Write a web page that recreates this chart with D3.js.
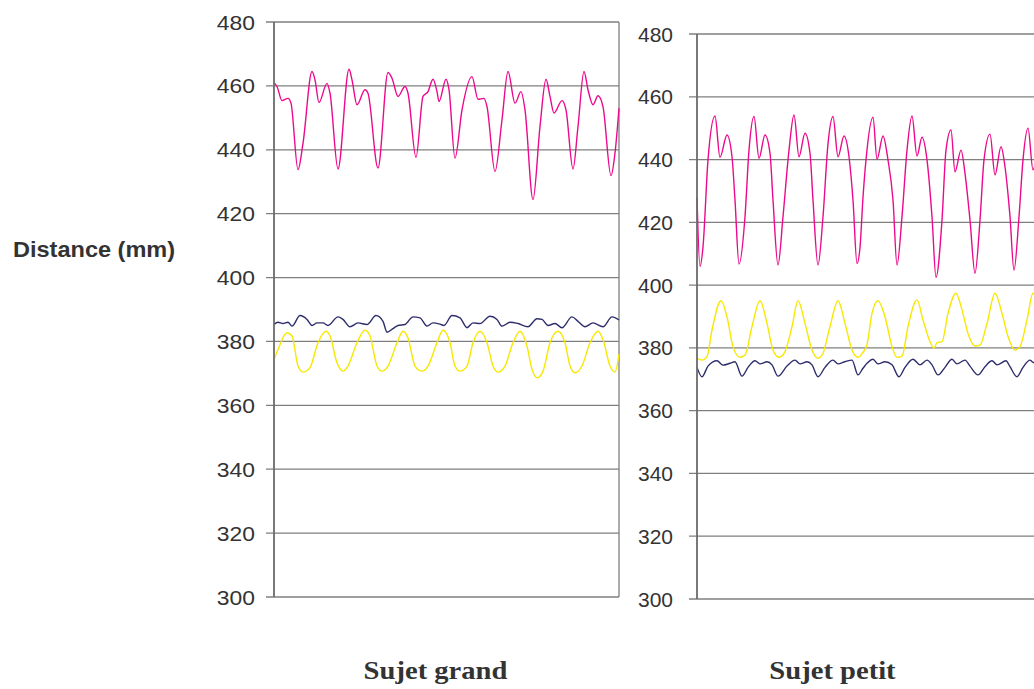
<!DOCTYPE html>
<html>
<head>
<meta charset="utf-8">
<script src="https://cdn.jsdelivr.net/npm/d3@7"></script>
<style>
  body { margin: 0; background: #fff; }
  svg { display: block; }
</style>
</head>
<body>
<svg id="chart" width="1034" height="689"></svg>
<script>
// Axis values (mm) and sample range shared by both panels
var yTicks = [300, 320, 340, 360, 380, 400, 420, 440, 460, 480]
var tDomain = [0, 345]

// Sujet grand: [sample, distance in mm]
var grandRose = [[0,461],[3,459.8],[8,455.4],[14,456.1],[17,454.6],[24,433.8],[29,442],[38,464.5],[41,461.9],[45,454.8],
  [53,460.8],[56,457.7],[64,434],[75,465.2],[78,461.9],[83,454.1],[91,458.8],[94,457.7],[104,434.3],[114,464.2],
  [118,462.4],[124,456.7],[131,459.8],[134,457.7],[142,437.6],[149,456.7],[154,458.2],[159,462.1],[163,458.2],[165,455.1],
  [172,462.1],[175,458.8],[181,437.4],[188,452.5],[198,462.9],[204,455.8],[210,456.1],[213,453.5],[221,433.2],[228,449.4],
  [234,464.5],[241,454.6],[247,458.2],[251,452.5],[259,424.4],[266,447.3],[272,462.1],[276,456.7],[280,451.5],[288,455.4],
  [292,452.5],[299,434],[304,447.3],[310,464.5],[314,458.8],[319,454.1],[324,456.9],[329,453.5],[337,431.9],[341,439],[345,453]]

var grandBleu = [[0,385.3],[4,386],[9,385.6],[14,386],[18,384.8],[26,388.1],[33,386.9],[38,385],[43,385.8],[49,385.8],
  [54,385],[64,387.7],[69,386.9],[76,384.6],[84,385.8],[93,385.3],[102,388.1],[109,386.3],[113,382.9],[119,384],
  [124,385],[131,385.3],[139,387.7],[146,387.4],[153,384.8],[159,385.8],[166,385.4],[170,385],[178,388.1],[186,387.4],
  [193,384.3],[199,385.8],[206,385.6],[216,387.9],[223,386.9],[228,384.8],[236,386],[244,385.6],[254,384.6],[263,387.1],
  [268,386.9],[274,385],[281,385.6],[288,384.3],[298,387.7],[304,386.3],[311,384.6],[319,385.8],[329,384.6],[338,387.7],[345,386.7]]

var grandJaune = [[0,374.4],[4,377.5],[13,382.7],[18,381.7],[24,372.3],[29,370.4],[36,371.8],[44,379.6],[52,383.2],[56,381.7],
  [63,373.3],[69,370.7],[74,372.3],[83,379.6],[91,383.5],[96,381.7],[103,372.3],[108,370.7],[114,372.3],[123,379.6],
  [129,383.2],[134,381.1],[141,372.3],[148,370.7],[154,372.3],[163,379.6],[169,383.5],[176,379.6],[181,372.3],[186,370.7],
  [193,372.3],[199,379.6],[206,383.2],[213,379.6],[219,372.3],[224,370.4],[231,372.3],[239,379.6],[246,383.2],[253,378.5],
  [258,371.3],[263,368.6],[269,370.7],[276,379.6],[284,383.2],[291,379.6],[296,372.3],[301,370.2],[308,372.3],[316,379.6],
  [324,383.2],[329,380.6],[336,372.3],[341,370.4],[345,376]]

// Sujet petit
var petitRose = [[0,428],[3,405.9],[6,412.2],[11,439.9],[18,453.9],[23,440.7],[30,447.8],[35,440.9],[38,427.1],[42,406.7],
  [48,421.8],[52,443],[57,453.7],[62,440.4],[68,447.8],[73,442],[76,427.1],[81,406.4],[86,421.8],[92,443],
  [97,454.2],[102,440.9],[108,448.4],[113,442],[116,427.1],[121,406.4],[126,421.8],[131,445],[136,453.7],[141,440.9],
  [147,447.5],[152,440.9],[156,427.1],[160,406.9],[163,412],[166,428],[169,439.9],[176,453.5],[180,440.1],[186,447.5],
  [191,439.9],[196,427.1],[200,406.4],[205,421.8],[210,443],[215,453.9],[220,441.1],[225,447.1],[230,439.9],[235,421.8],
  [239,402.5],[245,420.7],[249,443],[254,449.4],[258,436.1],[264,443],[268,435.6],[273,420.7],[278,403.8],[283,420.7],
  [287,439.9],[293,448.1],[298,435.1],[304,444.1],[308,437.7],[313,421.8],[317,404.8],[322,421.8],[326,439.9],[331,450],
  [336,436.7],[340,440],[345,442]]

var petitBleu = [[0,373.8],[5,370.8],[11,374.2],[20,375.9],[26,374.5],[33,375.1],[38,375.6],[45,371],[51,373.8],[58,375.9],
  [63,374.9],[70,375.6],[75,374.6],[81,371],[90,374.2],[98,376.1],[103,374.9],[110,375.6],[115,374.6],[121,370.8],
  [128,373.8],[136,376.1],[141,374.9],[148,375.6],[155,376.1],[161,371.4],[166,373.5],[170,375.1],[176,376.4],[181,374.9],
  [188,375.6],[195,374.6],[202,370.8],[208,373.8],[216,376.4],[223,374.6],[230,376.1],[235,374.6],[241,371.4],[248,373.8],
  [255,376.4],[260,374.9],[268,376.1],[273,374.2],[281,371.4],[288,374],[295,375.9],[300,374.6],[309,375.9],[313,374],
  [320,370.8],[326,373.8],[333,376.1],[336,375.4],[345,375]]

var petitJaune = [[0,376.7],[5,376.1],[10,377.2],[15,385.7],[24,395],[30,389.9],[36,380.4],[43,377],[48,377.7],[55,386.8],
  [63,395],[70,387.8],[76,379.3],[82,377],[88,378.8],[95,386.8],[101,395],[108,387.8],[115,379.3],[121,376.7],
  [126,378.3],[133,386.8],[141,395],[148,387.8],[155,379.3],[161,377],[166,378.6],[170,381],[175,391],[181,395],
  [188,389.9],[195,380.4],[200,377],[205,377.4],[211,386.8],[220,395.3],[226,388.9],[233,382],[237,379.9],[240,381.7],
  [245,382],[251,391],[259,397.4],[265,392.1],[271,384.6],[278,380.6],[283,380.9],[290,387.8],[298,397.4],[305,391],
  [311,383.6],[318,379.3],[323,380.4],[330,388.9],[336,397.4],[342,393],[345,389]]

var colRose = '#ec0a8c'
var colBleu = '#2e2e6c'
var colJaune = '#f7e800'

var svg = d3.select('#chart')

// Writes text at (x, y), stretched sideways by sx like the source picture
function stretchedText(x, y, txt, sx, anchor) {
  return svg.append('text')
    .attr('transform', 'translate(' + x + ',' + y + ') scale(' + sx + ',1)')
    .attr('text-anchor', anchor)
    .text(txt)
}

function drawPanel(p, series) {
  var x = d3.scaleLinear().domain(tDomain).range([p.left, p.right])
  var y = d3.scaleLinear().domain([300, 480]).range([p.bottom, p.top])

  // gridlines, with the tick stub to the left of the axis
  svg.append('g')
    .selectAll('line')
    .data(yTicks)
    .join('line')
    .attr('x1', p.left - 8)
    .attr('x2', p.right)
    .attr('y1', function(d) { return y(d) })
    .attr('y2', function(d) { return y(d) })
    .style('stroke', '#7f7f7f')
    .style('stroke-width', 1.3)

  // right border of the plot area
  svg.append('line')
    .attr('x1', p.right).attr('x2', p.right)
    .attr('y1', p.top).attr('y2', p.bottom)
    .style('stroke', '#7f7f7f')
    .style('stroke-width', 1.3)

  var line = d3.line()
    .x(function(d) { return x(d[0]) })
    .y(function(d) { return y(d[1]) })
    .curve(d3.curveMonotoneX)

  series.forEach(function(s) {
    svg.append('path')
      .datum(s.data)
      .attr('d', line)
      .style('fill', 'none')
      .style('stroke', s.color)
      .style('stroke-width', 1.4)
  })

  // y axis line
  svg.append('line')
    .attr('x1', p.left).attr('x2', p.left)
    .attr('y1', p.top).attr('y2', p.bottom)
    .style('stroke', '#6b6b6b')
    .style('stroke-width', 1.8)

  yTicks.forEach(function(v) {
    stretchedText(p.left - p.pad, y(v) + 7.5, String(v), p.sx, 'end')
      .style('font-family', 'Liberation Sans, Arial, sans-serif')
      .style('font-size', '21px')
      .style('fill', '#333')
  })

  stretchedText((p.left + p.right) / 2 + p.titleShift, 679, p.title, 1.1, 'middle')
    .style('font-family', 'Liberation Serif, Times New Roman, serif')
    .style('font-weight', 'bold')
    .style('font-size', '26px')
    .style('fill', '#333')
}

drawPanel({left: 274, right: 619, top: 22, bottom: 597, pad: 19, sx: 1.09, title: 'Sujet grand', titleShift: -11},
  [{data: grandRose, color: colRose}, {data: grandBleu, color: colBleu}, {data: grandJaune, color: colJaune}])

drawPanel({left: 697, right: 1042, top: 34, bottom: 599, pad: 24, sx: 1.0, title: 'Sujet petit', titleShift: -37},
  [{data: petitRose, color: colRose}, {data: petitJaune, color: colJaune}, {data: petitBleu, color: colBleu}])

stretchedText(13, 257, 'Distance (mm)', 1.07, 'start')
  .style('font-family', 'Liberation Sans, Arial, sans-serif')
  .style('font-weight', 'bold')
  .style('font-size', '22px')
  .style('fill', '#333')
</script>
</body>
</html>
